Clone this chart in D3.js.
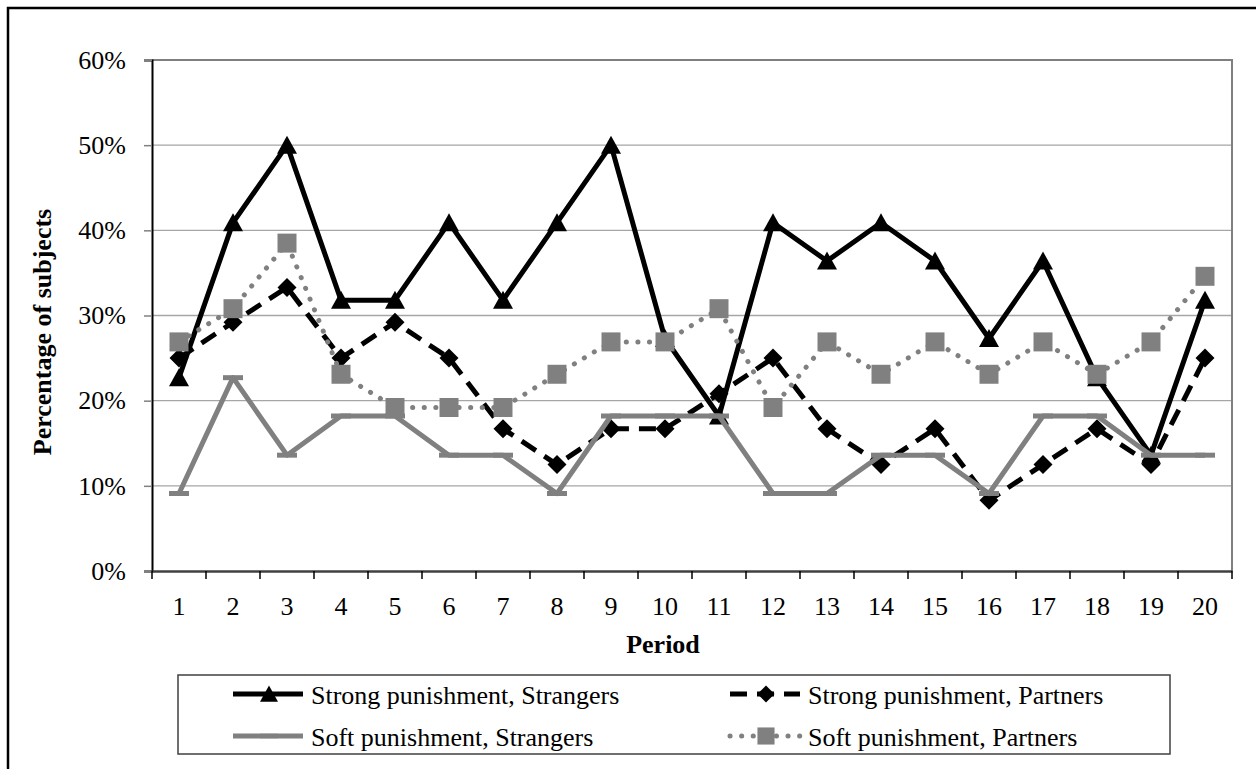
<!DOCTYPE html>
<html>
<head>
<meta charset="utf-8">
<script src="https://cdn.jsdelivr.net/npm/d3@7"></script>
<style>
  body { margin: 0; background: #fff; }
  svg text { font-family: 'Liberation Serif', 'Times New Roman', serif; fill: #000; }
</style>
</head>
<body>
<div id="chart"></div>
<script>
// ////////////////////////////////////////////////////////////////////////////
// DATA
// ////////////////////////////////////////////////////////////////////////////
const periods = d3.range(1, 21);
const yTicks = [0, 0.1, 0.2, 0.3, 0.4, 0.5, 0.6];

const strongStrangers = [22.7, 40.9, 50, 31.8, 31.8, 40.9, 31.8, 40.9, 50, 27.3,
  18.2, 40.9, 36.4, 40.9, 36.4, 27.3, 36.4, 22.7, 13.6, 31.8];
const strongPartners = [25, 29.2, 33.3, 25, 29.2, 25, 16.7, 12.5, 16.7, 16.7,
  20.8, 25, 16.7, 12.5, 16.7, 8.3, 12.5, 16.7, 12.5, 25];
const softStrangers = [9.1, 22.7, 13.6, 18.2, 18.2, 13.6, 13.6, 9.1, 18.2, 18.2,
  18.2, 9.1, 9.1, 13.6, 13.6, 9.1, 18.2, 18.2, 13.6, 13.6];
const softPartners = [26.9, 30.8, 38.5, 23.1, 19.2, 19.2, 19.2, 23.1, 26.9, 26.9,
  30.8, 19.2, 26.9, 23.1, 26.9, 23.1, 26.9, 23.1, 26.9, 34.6];

const seriesNames = ['Strong punishment, Strangers', 'Strong punishment, Partners',
  'Soft punishment, Strangers', 'Soft punishment, Partners'];

// ////////////////////////////////////////////////////////////////////////////
// SET UP
// ////////////////////////////////////////////////////////////////////////////
const width = 1256;
const height = 769;
const plot = { left: 152, right: 1232, top: 60, bottom: 571 };
const gray = '#808080';

const svg = d3.select('#chart').append('svg')
  .attr('width', width)
  .attr('height', height);

const x = d3.scaleBand()
  .domain(periods)
  .range([plot.left, plot.right]);

const y = d3.scaleLinear()
  .domain([0, 0.6])
  .range([plot.bottom, plot.top]);

// marker shapes, drawn around 0,0
const markerPath = {
  triangle: 'M0,-9.5L10,8.5L-10,8.5Z',
  diamond: 'M0,-9.5L9.5,0L0,9.5L-9.5,0Z',
  square: 'M-9.5,-9.5H9.5V9.5H-9.5Z',
  dash: 'M-10,-2.5H10V2.5H-10Z',
};

const series = [
  { name: seriesNames[0], values: strongStrangers, color: '#000', dash: null, cap: 'butt', marker: 'triangle', mcolor: '#000', w: 5 },
  { name: seriesNames[1], values: strongPartners, color: '#000', dash: '17,10', cap: 'butt', marker: 'diamond', mcolor: '#000', w: 5 },
  { name: seriesNames[2], values: softStrangers, color: gray, dash: null, cap: 'butt', marker: 'dash', mcolor: gray, w: 5 },
  { name: seriesNames[3], values: softPartners, color: gray, dash: '0.1,11.5', cap: 'round', marker: 'square', mcolor: gray, w: 5 },
];

// outer frame (runs off the picture right and bottom)
svg.append('rect')
  .attr('x', 8)
  .attr('y', 8)
  .attr('width', width + 20)
  .attr('height', height + 20)
  .attr('fill', 'none')
  .attr('stroke', '#000')
  .attr('stroke-width', 2.5);

// gridlines
svg.append('g')
  .selectAll('line')
  .data(yTicks.slice(1, -1))
  .enter()
  .append('line')
    .attr('x1', plot.left)
    .attr('x2', plot.right)
    .attr('y1', d => y(d))
    .attr('y2', d => y(d))
    .attr('stroke', '#a6a6a6')
    .attr('stroke-width', 1.3);

// plot area border top and right
svg.append('path')
  .attr('d', `M${plot.left},${y(0.6)}H${plot.right}V${plot.bottom}`)
  .attr('fill', 'none')
  .attr('stroke', gray)
  .attr('stroke-width', 2);

// ////////////////////////////////////////////////////////////////////////////
// AXES
// ////////////////////////////////////////////////////////////////////////////
const yAxis = svg.append('g')
  .attr('transform', `translate(${plot.left},0)`)
  .call(d3.axisLeft(y).tickValues(yTicks).tickFormat(d3.format('.0%')).tickSize(8).tickPadding(18));
yAxis.select('.domain').attr('stroke', '#000').attr('stroke-width', 2);
yAxis.selectAll('.tick line').attr('stroke', gray).attr('stroke-width', 1.5);
yAxis.selectAll('.tick text')
  .attr('font-size', 26)
  .attr('font-family', 'Liberation Serif, Times New Roman, serif');

const xAxis = svg.append('g')
  .attr('transform', `translate(0,${plot.bottom})`)
  .call(d3.axisBottom(x).tickSize(0).tickPadding(26));
xAxis.select('.domain').attr('stroke', '#404040').attr('stroke-width', 2.5);
xAxis.selectAll('.tick text')
  .attr('font-size', 26)
  .attr('font-family', 'Liberation Serif, Times New Roman, serif');

// tick marks sit between categories
svg.append('g')
  .selectAll('line')
  .data(d3.range(periods.length + 1))
  .enter()
  .append('line')
    .attr('x1', i => plot.left + i * x.step())
    .attr('x2', i => plot.left + i * x.step())
    .attr('y1', plot.bottom)
    .attr('y2', plot.bottom + 8)
    .attr('stroke', '#000')
    .attr('stroke-width', 1.5);

svg.append('text')
  .attr('x', 663)
  .attr('y', 653)
  .attr('text-anchor', 'middle')
  .attr('font-size', 26)
  .attr('font-weight', 'bold')
  .text('Period');

svg.append('text')
  .attr('transform', 'translate(51,332) rotate(-90)')
  .attr('text-anchor', 'middle')
  .attr('font-size', 26)
  .attr('font-weight', 'bold')
  .text('Percentage of subjects');

// ////////////////////////////////////////////////////////////////////////////
// LINES AND MARKERS
// ////////////////////////////////////////////////////////////////////////////
const line = d3.line()
  .x((d, i) => x(periods[i]) + x.bandwidth() / 2)
  .y(d => y(d / 100));

series.forEach((s) => {
  const g = svg.append('g');
  g.append('path')
    .attr('d', line(s.values))
    .attr('fill', 'none')
    .attr('stroke', s.color)
    .attr('stroke-width', s.w)
    .attr('stroke-dasharray', s.dash)
    .attr('stroke-linecap', s.cap)
    .attr('stroke-linejoin', 'round');
  g.selectAll('path.marker')
    .data(s.values)
    .enter()
    .append('path')
      .attr('class', 'marker')
      .attr('d', markerPath[s.marker])
      .attr('transform', (d, i) => `translate(${x(periods[i]) + x.bandwidth() / 2},${y(d / 100)})`)
      .attr('fill', s.mcolor);
});

// ////////////////////////////////////////////////////////////////////////////
// LEGEND
// ////////////////////////////////////////////////////////////////////////////
svg.append('rect')
  .attr('x', 178)
  .attr('y', 675)
  .attr('width', 992)
  .attr('height', 79)
  .attr('fill', '#fff')
  .attr('stroke', '#404040')
  .attr('stroke-width', 1.5);

const legendCols = [233, 730];
const legendRows = [694, 736];

series.forEach((s, i) => {
  const lx = legendCols[i % 2];
  const ly = legendRows[Math.floor(i / 2)];
  const g = svg.append('g');
  g.append('line')
    .attr('x1', lx)
    .attr('x2', lx + 70)
    .attr('y1', ly)
    .attr('y2', ly)
    .attr('stroke', s.color)
    .attr('stroke-width', s.w)
    .attr('stroke-dasharray', s.dash)
    .attr('stroke-linecap', s.cap);
  g.append('path')
    .attr('d', markerPath[s.marker])
    .attr('transform', `translate(${lx + 36},${ly}) scale(0.9)`)
    .attr('fill', s.mcolor);
  g.append('text')
    .attr('x', lx + 78)
    .attr('y', ly + 10)
    .attr('font-size', 26)
    .text(s.name);
});
</script>
</body>
</html>
